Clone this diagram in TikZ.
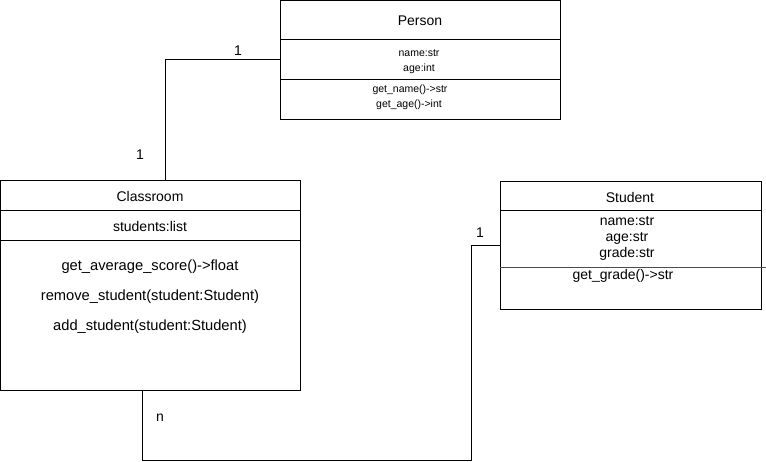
\documentclass[tikz,border=0pt]{standalone}
\usepackage{fontspec}
\setmainfont{Liberation Sans}
\begin{document}
\begin{tikzpicture}[x=1pt,y=-1pt,
  box/.style={draw, line width=1pt, inner sep=0pt},
  txt/.style={inner sep=0pt, anchor=base, font=\fontsize{14}{16}\selectfont},
  big/.style={inner sep=0pt, anchor=base, font=\fontsize{14.7}{16}\selectfont},
  small/.style={inner sep=0pt, anchor=base, font=\fontsize{10.5}{14}\selectfont},
  conn/.style={line width=1pt}]
\useasboundingbox[fill=white] (0,0) rectangle (766,462);

% Person
\node[box, minimum width=279.5pt, minimum height=119pt] (person) at (420.25,60) {};
\draw[conn] (person.west |- 0,40) -- (person.east |- 0,40);
\draw[conn] (person.west |- 0,80) -- (person.east |- 0,80);
\node[txt] (ptitle) at (420,25.5) {Person};
\node[small] (pa1) at (419,57) {name:str};
\node[small] (pa2) at (419,72) {age:int};
\node[small] (pm1) at (410,93) {get\_name()->str};
\node[small] (pm2) at (409,107.5) {get\_age()->int};

% Classroom
\node[box, minimum width=300pt, minimum height=209.5pt] (classroom) at (150.5,285.75) {};
\draw[conn] (classroom.west |- 0,211) -- (classroom.east |- 0,211);
\draw[conn] (classroom.west |- 0,241) -- (classroom.east |- 0,241);
\node[txt] (ctitle) at (150,201.5) {Classroom};
\node[txt] (ca1) at (150,231.5) {students:list};
\node[big] (cm1) at (150,271) {get\_average\_score()->float};
\node[big] (cm2) at (150,301) {remove\_student(student:Student)};
\node[big] (cm3) at (150,331) {add\_student(student:Student)};

% Student
\node[box, minimum width=260.5pt, minimum height=128.5pt] (student) at (630.75,245.75) {};
\draw[conn] (student.west |- 0,211) -- (student.east |- 0,211);
\coordinate (sline) at (766,267.5);
\draw[conn, black!70] (student.west |- sline) -- (sline);
\node[txt] (stitle) at (630,202.5) {Student};
\node[txt] (sa1) at (627,225.5) {name:str};
\node[txt] (sa2) at (627,241.5) {age:str};
\node[txt] (sa3) at (627,257.5) {grade:str};
\node[txt] (sm1) at (623,280) {get\_grade()->str};

% Connectors
\draw[conn] (person.west) -| ([xshift=15pt]classroom.north);
\coordinate (c2) at (471,460);
\draw[conn] ([xshift=-8.5pt]classroom.south) |- (c2) |- (student.west);

% Multiplicities
\node[txt] (m1) at (238,55.5) {1};
\node[txt] (m2) at (140,160) {1};
\node[txt] (m3) at (480,238) {1};
\node[txt] (m4) at (160,421) {n};
\end{tikzpicture}
\end{document}
